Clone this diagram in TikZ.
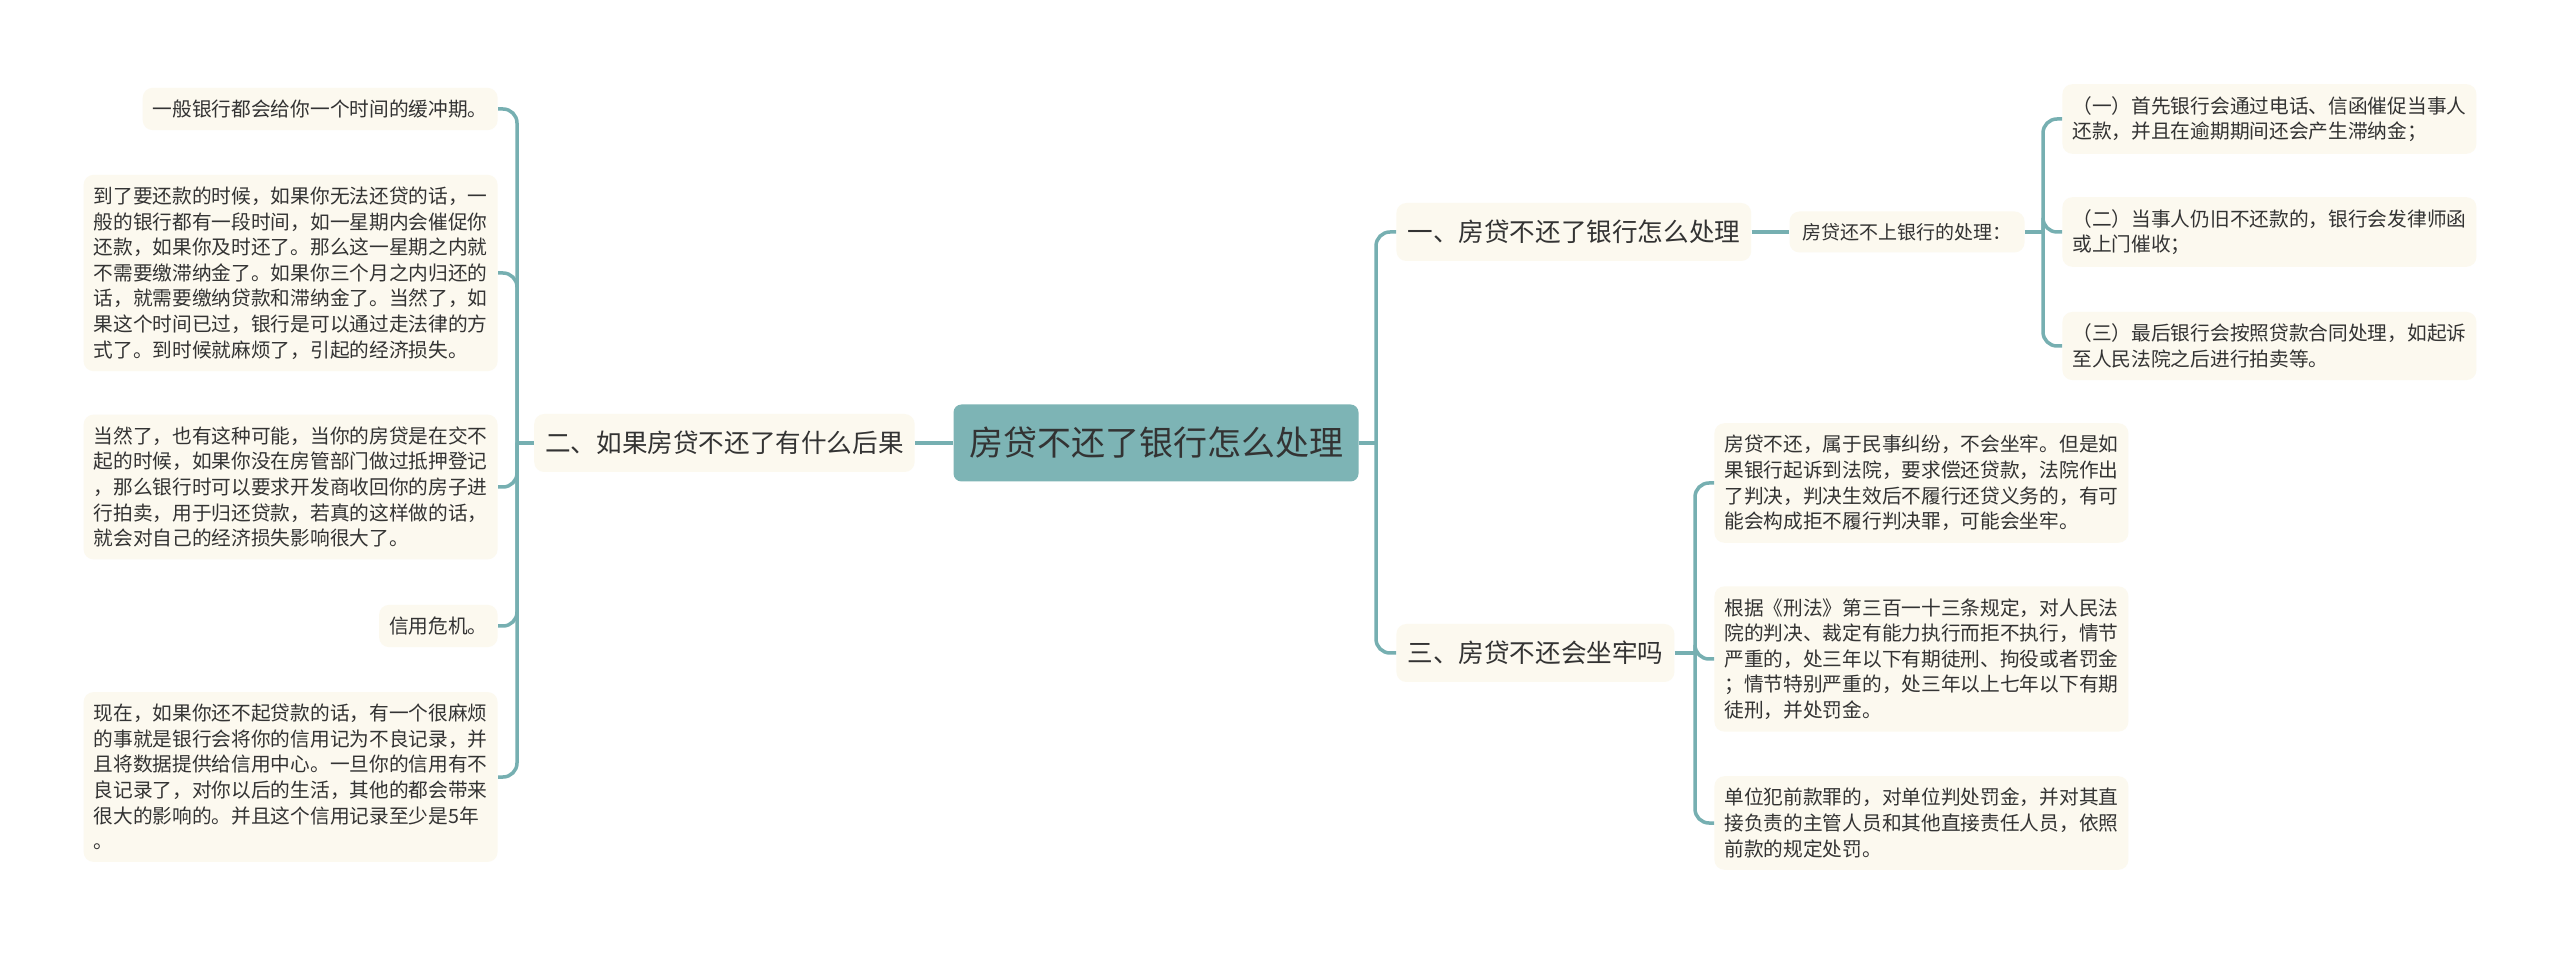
\documentclass[tikz,border=0pt]{standalone}
\usepackage{fontspec}
\setmainfont{Noto Sans CJK SC}
\definecolor{rootc}{HTML}{7DB4B5}
\definecolor{leafc}{HTML}{FCF9EF}
\definecolor{linec}{HTML}{76AFB1}
\definecolor{txtc}{HTML}{333333}

\begin{document}
\begin{tikzpicture}[x=0.5pt, y=-0.5pt,
  rootbox/.style={fill=rootc, text=txtc, rounded corners=4pt, minimum width=202.5pt,
    minimum height=38.5pt, inner sep=0pt, font=\fontsize{17}{20}\selectfont},
  branchbox/.style={fill=leafc, text=txtc, rounded corners=5pt, minimum height=29pt,
    inner xsep=5.5pt, inner ysep=0pt, font=\fontsize{12.8}{15}\selectfont},
  midbox/.style={fill=leafc, text=txtc, rounded corners=5pt, minimum width=117.5pt,
    minimum height=20.5pt, inner sep=0pt, font=\fontsize{9.5}{12}\selectfont},
  leaf/.style={fill=leafc, text=txtc, rounded corners=5pt, align=left,
    inner xsep=5pt, inner ysep=6pt, font=\fontsize{9.85}{12.8}\selectfont},
  conn/.style={draw=linec, line width=1.75pt, rounded corners=7pt}]

  % Canvas
  \fill[white] (0,0) rectangle (2560,956);
  \useasboundingbox (0,0) rectangle (2560,956);

  % Root and branches
  \node[rootbox] (root) at (1156,443) {房贷不还了银行怎么处理};
  \node[branchbox, anchor=east] (b2) at (915,443) {二、如果房贷不还了有什么后果};
  \node[branchbox, anchor=west] (b1) at (1396,232) {一、房贷不还了银行怎么处理};
  \node[branchbox, anchor=west] (b3) at (1396,653) {三、房贷不还会坐牢吗};
  \node[midbox] (mid) at (1907,232) {房贷还不上银行的处理：};

  % Left leaves
  \node[leaf, anchor=east] (a1) at (498,109) {一般银行都会给你一个时间的缓冲期。};
  \node[leaf, anchor=east] (a2) at (498,273) {到了要还款的时候，如果你无法还贷的话，一\\
    般的银行都有一段时间，如一星期内会催促你\\还款，如果你及时还了。那么这一星期之内就\\
    不需要缴滞纳金了。如果你三个月之内归还的\\话，就需要缴纳贷款和滞纳金了。当然了，如\\
    果这个时间已过，银行是可以通过走法律的方\\式了。到时候就麻烦了，引起的经济损失。};
  \node[leaf, anchor=east] (a3) at (498,487) {当然了，也有这种可能，当你的房贷是在交不\\
    起的时候，如果你没在房管部门做过抵押登记\\，那么银行时可以要求开发商收回你的房子进\\
    行拍卖，用于归还贷款，若真的这样做的话，\\就会对自己的经济损失影响很大了。};
  \node[leaf, anchor=east] (a4) at (498,626) {信用危机。};
  \node[leaf, anchor=east] (a5) at (498,777) {现在，如果你还不起贷款的话，有一个很麻烦\\
    的事就是银行会将你的信用记为不良记录，并\\且将数据提供给信用中心。一旦你的信用有不\\
    良记录了，对你以后的生活，其他的都会带来\\很大的影响的。并且这个信用记录至少是5年\\。};

  % Right leaves, first branch
  \node[leaf, anchor=west] (l1) at (2062,119) {（一）首先银行会通过电话、信函催促当事人\\
    还款，并且在逾期期间还会产生滞纳金；};
  \node[leaf, anchor=west] (l2) at (2062,232) {（二）当事人仍旧不还款的，银行会发律师函\\
    或上门催收；};
  \node[leaf, anchor=west] (l3) at (2062,346) {（三）最后银行会按照贷款合同处理，如起诉\\
    至人民法院之后进行拍卖等。};

  % Right leaves, third branch
  \node[leaf, anchor=west] (r1) at (1714,483) {房贷不还，属于民事纠纷，不会坐牢。但是如\\
    果银行起诉到法院，要求偿还贷款，法院作出\\了判决，判决生效后不履行还贷义务的，有可\\
    能会构成拒不履行判决罪，可能会坐牢。};
  \node[leaf, anchor=west] (r2) at (1714,659) {根据《刑法》第三百一十三条规定，对人民法\\
    院的判决、裁定有能力执行而拒不执行，情节\\严重的，处三年以下有期徒刑、拘役或者罚金\\
    ；情节特别严重的，处三年以上七年以下有期\\徒刑，并处罚金。};
  \node[leaf, anchor=west] (r3) at (1714,823) {单位犯前款罪的，对单位判处罚金，并对其直\\
    接负责的主管人员和其他直接责任人员，依照\\前款的规定处罚。};

  % Junctions
  \coordinate (jr) at (1376,443);
  \coordinate (jl) at (517,443);
  \coordinate (jm) at (2043,232);
  \coordinate (j3) at (1695,653);

  % Connectors
  \draw[conn] (root.west) -- (b2.east);
  \draw[conn] (root.east) -- (jr);
  \draw[conn] (jr) |- (b1.west);
  \draw[conn] (jr) |- (b3.west);
  \draw[conn] (b1.east) -- (mid.west);
  \draw[conn] (mid.east) -- (jm);
  \foreach \n in {l1,l2,l3} \draw[conn] (jm) |- (\n.west);
  \draw[conn] (b3.east) -- (j3);
  \foreach \n in {r1,r2,r3} \draw[conn] (j3) |- (\n.west);
  \draw[conn] (b2.west) -- (jl);
  \foreach \n in {a1,a2,a3,a4,a5} \draw[conn] (jl) |- (\n.east);
\end{tikzpicture}
\end{document}
